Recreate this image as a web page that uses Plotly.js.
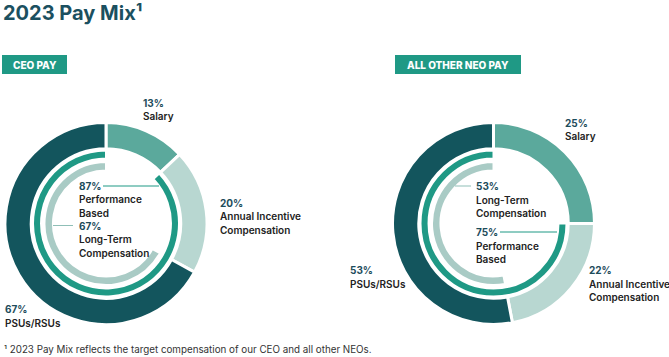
<!DOCTYPE html>
<html>
<head>
<meta charset="utf-8">
<script src="https://cdn.plot.ly/plotly-3.0.1.min.js"></script>
<style>html,body{margin:0;padding:0;background:#fff;}#chart{width:669px;height:357px;}</style>
</head>
<body>
<div id="chart"></div>
<script>
// ---- Data ----
const payComponents = ["Salary", "Annual Incentive Compensation", "PSUs/RSUs"];
const ceoPay = [13, 20, 67];
const neoPay = [25, 22, 53];
const performanceBased = [87, 75];   // CEO, other NEOs
const longTermComp = [67, 53];       // CEO, other NEOs
const badgeLabels = ["CEO PAY", "ALL OTHER NEO PAY"];
const titleText = "2023 Pay Mix¹";
const footnoteText = "¹ 2023 Pay Mix reflects the target compensation of our CEO and all other NEOs.";

// ---- Styles ----
const W = 669, H = 357;
const C = {
  dark: "#13555d", salary: "#5ba99c", annual: "#b8d7d1",
  teal: "#1f9985", grey: "#a9cbc5", pct: "#1d4c5b", label: "#222222",
  title: "#1b5060", foot: "#333333"
};
const FONT = "Inter, 'Noto Sans', sans-serif";
const X = v => v / W;
const Y = v => 1 - v / H;
function dom(cx, cy, r) {
  return { x: [X(cx - r), X(cx + r)], y: [Y(cy + r), Y(cy - r)] };
}

const centers = [[106, 223.5], [493.5, 223.5]];
const pays = [ceoPay, neoPay];
const traces = [];
centers.forEach(([cx, cy], i) => {
  traces.push({
    type: "pie", values: pays[i], labels: payComponents, sort: false,
    direction: "clockwise", rotation: 0, hole: 0.74, domain: dom(cx, cy, 101),
    marker: { colors: [C.salary, C.annual, C.dark], line: { color: "#fff", width: 3 } },
    textinfo: "none", hoverinfo: "none", showlegend: false
  });
  traces.push({
    type: "pie", values: [100 - performanceBased[i], performanceBased[i]],
    labels: ["other", "Performance Based"], sort: false,
    direction: "clockwise", rotation: 0, hole: 0.89, domain: dom(cx, cy, 73),
    marker: { colors: ["rgba(0,0,0,0)", C.teal], line: { color: "#fff", width: 2 } },
    textinfo: "none", hoverinfo: "none", showlegend: false
  });
  traces.push({
    type: "pie", values: [100 - longTermComp[i], longTermComp[i]],
    labels: ["other", "Long-Term Compensation"], sort: false,
    direction: "clockwise", rotation: 0, hole: 0.862, domain: dom(cx, cy, 61.5),
    marker: { colors: ["rgba(0,0,0,0)", C.grey], line: { color: "#fff", width: 2 } },
    textinfo: "none", hoverinfo: "none", showlegend: false
  });
});

const annotations = [];
function line(x, y, text, color, size, weight) {
  annotations.push({
    xref: "paper", yref: "paper", x: X(x), y: Y(y), xanchor: "left", yanchor: "middle",
    text: text, showarrow: false,
    font: { family: FONT, size: size || 10, color: color, weight: weight || 600 }
  });
}
function block(x, y0, pct, labelLines, step) {
  step = step || 13.5;
  line(x, y0, pct + "%", C.pct, 10, 700);
  labelLines.forEach((t, k) => line(x, y0 + step * (k + 1), t, C.label, 10, 600));
}
// CEO donut labels
block(141, 103, ceoPay[0], ["Salary"]);
block(218, 203, ceoPay[1], ["Annual Incentive", "Compensation"]);
block(3, 309, ceoPay[2], ["PSUs/RSUs"]);
block(77, 185.5, performanceBased[0], ["Performance", "Based"]);
block(77, 225.5, longTermComp[0], ["Long-Term", "Compensation"]);
// NEO donut labels
block(563, 123, neoPay[0], ["Salary"]);
block(587, 270, neoPay[1], ["Annual Incentive", "Compensation"]);
block(348, 270, neoPay[2], ["PSUs/RSUs"]);
block(474, 186, longTermComp[1], ["Long-Term", "Compensation"]);
block(474, 232, performanceBased[1], ["Performance", "Based"]);

// Badges
const badges = [[2, 67], [395, 521]];
const shapes = [];
badges.forEach(([x0, x1], i) => {
  shapes.push({ type: "rect", xref: "paper", yref: "paper", x0: X(x0), x1: X(x1), y0: Y(74), y1: Y(55),
    fillcolor: C.teal, line: { width: 0 }, layer: "below" });
  annotations.push({ xref: "paper", yref: "paper", x: X((x0 + x1) / 2), y: Y(64.5), xanchor: "center", yanchor: "middle",
    text: badgeLabels[i], showarrow: false, font: { family: FONT, size: 10, color: "#fff", weight: 800 } });
});
// Leader lines
function lead(x0, x1, y, color) {
  shapes.push({ type: "line", xref: "paper", yref: "paper", x0: X(x0), x1: X(x1), y0: Y(y), y1: Y(y),
    line: { color: color, width: 1 } });
}
lead(103, 159, 186, C.teal);
lead(53, 73, 225.5, "#8fbfb7");
lead(455, 471, 186, "#8fbfb7");
lead(500, 557, 232, C.teal);

// Footnote
annotations.push({ xref: "paper", yref: "paper", x: X(2), y: Y(349), xanchor: "left", yanchor: "middle",
  text: footnoteText, showarrow: false, font: { family: FONT, size: 9.8, color: C.foot, weight: 400 } });

const layout = {
  width: W, height: H, margin: { l: 0, r: 0, t: 0, b: 0 },
  paper_bgcolor: "#fff", plot_bgcolor: "#fff",
  title: { text: titleText, x: X(3), xanchor: "left", xref: "paper", y: Y(12.5), yanchor: "middle", yref: "paper",
    font: { family: FONT, size: 20, color: C.title, weight: 700 } },
  annotations: annotations, shapes: shapes, showlegend: false
};
Plotly.newPlot("chart", traces, layout, { staticPlot: true, displayModeBar: false });
</script>
</body>
</html>
